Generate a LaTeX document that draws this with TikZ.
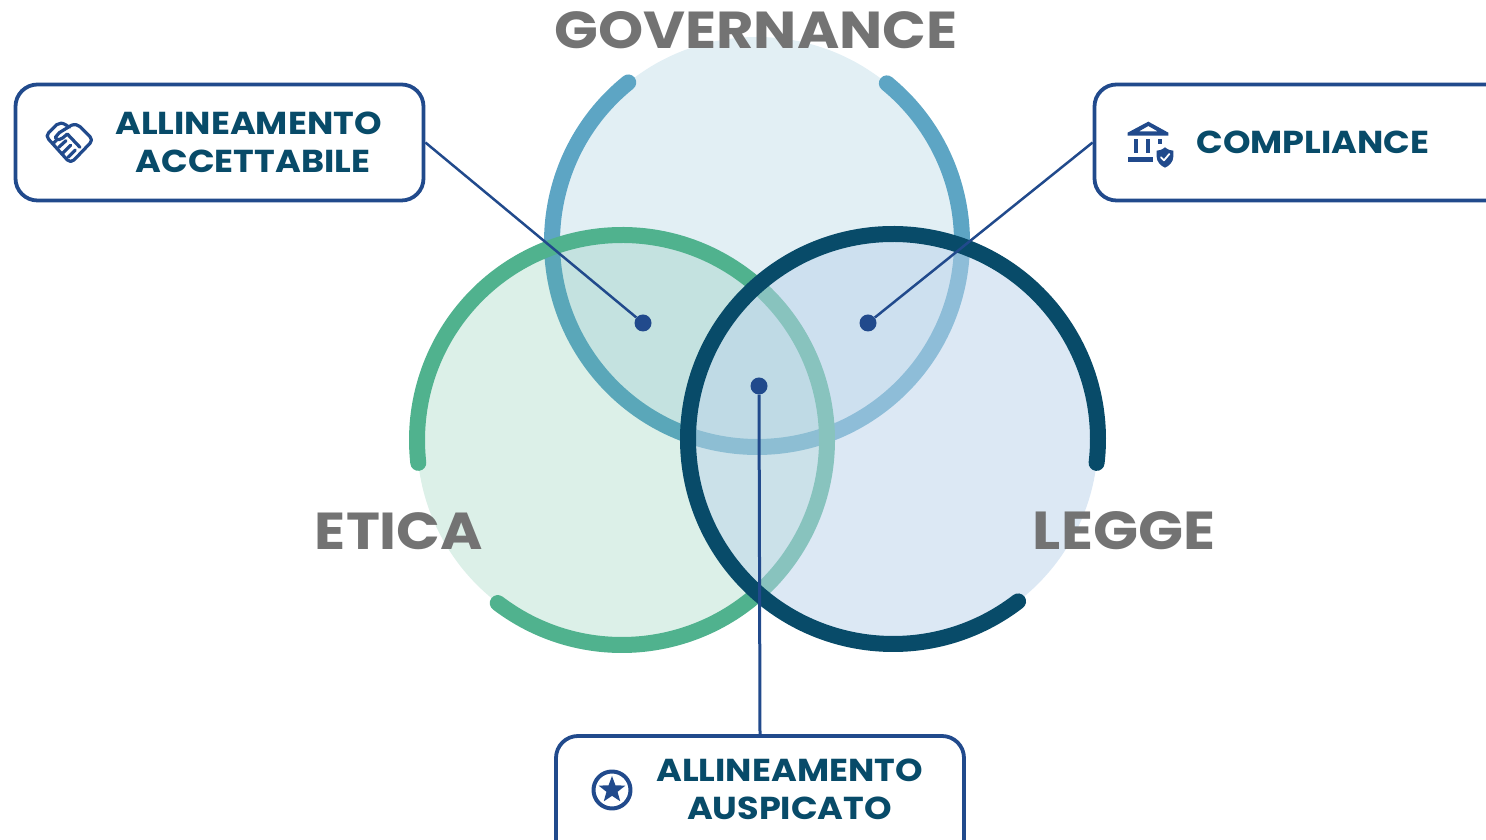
\documentclass[tikz,border=0pt]{standalone}
\usepackage{fontspec}
\setmainfont{Poppins}[FakeStretch=1.105]
\usetikzlibrary{shapes.geometric,positioning,calc}
\definecolor{govblue}{RGB}{93,165,196}
\definecolor{eticagreen}{RGB}{80,178,142}
\definecolor{leggenavy}{RGB}{8,75,105}
\definecolor{leggefill}{RGB}{188,212,235}
\definecolor{boxblue}{RGB}{33,74,140}
\definecolor{titlegray}{RGB}{115,115,115}
\tikzset{
	x=1pt,y=1pt,
	ring/.style={line width=16pt,line cap=round},
	titletext/.style={text=titlegray,font=\fontsize{52}{52}\selectfont\bfseries,inner sep=0pt},
	callbox/.style={draw=boxblue,line width=3.8pt,rounded corners=22pt,fill=white,inner sep=0pt},
	calltext/.style={text=leggenavy,font=\fontsize{31.7}{38}\selectfont\bfseries,align=center,inner sep=0pt},
	calldot/.style={circle,fill=boxblue,minimum size=17pt,inner sep=0pt},
	callline/.style={draw=boxblue,line width=2.5pt},
	icon/.style={draw=boxblue,line width=3.2pt,line cap=round,line join=round},
	iconfill/.style={fill=boxblue,draw=none}
}
\begin{document}
\begin{tikzpicture}
	\useasboundingbox (0,0) rectangle (1486,840);
	\clip (0,0) rectangle (1486,840);
	% the three circles
	\begin{scope}[shift={(757,598)}]
		\fill[govblue,opacity=0.18] (0,0) circle (205pt);
		\draw[ring,govblue] (128.9:205pt) arc[start angle=128.9,end angle=410.7,radius=205pt];
	\end{scope}
	\begin{scope}[shift={(622,400)}]
		\fill[eticagreen,opacity=0.2] (0,0) circle (205pt);
		\draw[ring,eticagreen] (232.7:205pt) arc[start angle=232.7,end angle=546.4,radius=205pt];
	\end{scope}
	\begin{scope}[shift={(893,401)}]
		\fill[leggefill,opacity=0.525] (0,0) circle (205pt);
		\draw[ring,leggenavy] (307.6:205pt) arc[start angle=307.6,end angle=-6.7,radius=205pt];
	\end{scope}
	\node[titletext] (governance) at (756,810) {GOVERNANCE};
	\node[titletext] (etica) at (399,309) {ETICA};
	\node[titletext,font=\fontsize{53.5}{53.5}\selectfont\bfseries] (legge) at (1124,309) {LEGGE};
	% callouts
	\node[callbox,minimum width=408pt,minimum height=116pt] (boxaccett) at (219.5,697.5) {};
	\node[callbox,minimum width=466pt,minimum height=116pt] (boxcompl) at (1327.5,697.5) {};
	\node[callbox,minimum width=408pt,minimum height=164pt] (boxausp) at (760,22) {};
	\node[calldot] (dotaccett) at (643,517) {};
	\node[calldot] (dotcompl) at (868,517) {};
	\node[calldot] (dotausp) at (759,454) {};
	\draw[callline] (boxaccett.east) -- (dotaccett);
	\draw[callline] (boxcompl.west) -- (dotcompl);
	\draw[callline,line width=3pt] (boxausp.north) -- (dotausp);
	\node[calltext] (txtaccett) at (253,698) {ALLINEAMENTO\kern9pt\\ACCETTABILE};
	\node[calltext] (txtcompl) at (1313,698) {COMPLIANCE};
	\node[calltext] (txtausp) at (789.5,51) {ALLINEAMENTO\\AUSPICATO};
	% handshake
	\begin{scope}[shift={(30,730)},xscale=0.3333,yscale=-0.3333]
		\draw[icon] (118,52) -- (108,45) .. controls (98,38) and (88,38) .. (80,44) -- (56,68) .. controls (50,74) and (50,82) .. (56,88) -- (112,150) .. controls (118,156) and (126,156) .. (132,150) -- (180,100) .. controls (186,94) and (186,86) .. (180,80) -- (150,50) .. controls (144,44) and (134,42) .. (124,46) -- (88,68) -- (76,82) .. controls (82,92) and (92,90) .. (98,84) -- (112,72) -- (150,112);
		\draw[icon] (70,100) -- (82,88);
		\draw[icon] (86,112) -- (108,92);
		\draw[icon] (100,128) -- (122,106);
		\draw[icon] (114,142) -- (136,120);
	\end{scope}
	% building with shield
	\begin{scope}[shift={(1115,730)},xscale=0.3333,yscale=-0.3333]
		\fill[iconfill,even odd rule] (38,68) -- (100,35) -- (160,68) -- (160,77) -- (38,77) -- cycle (72,64) -- (128,64) -- (100,48) -- cycle;
		\fill[iconfill] (58,88) rectangle (70,128);
		\fill[iconfill] (93,88) rectangle (105,128);
		\fill[iconfill] (128,88) rectangle (140,103);
		\fill[iconfill] (38,142) rectangle (113,155);
		\fill[iconfill] (150,112) .. controls (160,120) and (168,122) .. (175,122) -- (175,140) .. controls (175,156) and (162,168) .. (150,173) .. controls (138,168) and (125,156) .. (125,140) -- (125,122) .. controls (132,122) and (140,120) .. (150,112) -- cycle;
		\draw[white,line width=1.8pt,line cap=round,line join=round] (138,142) -- (147,151) -- (163,132);
	\end{scope}
	% star in a ring
	\draw[icon,line width=4pt] (612,50) circle (18.5pt);
	\node[star,star points=5,star point ratio=2.4,fill=boxblue,minimum size=28pt,inner sep=0pt] (staricon) at (612,50) {};
\end{tikzpicture}
\end{document}
